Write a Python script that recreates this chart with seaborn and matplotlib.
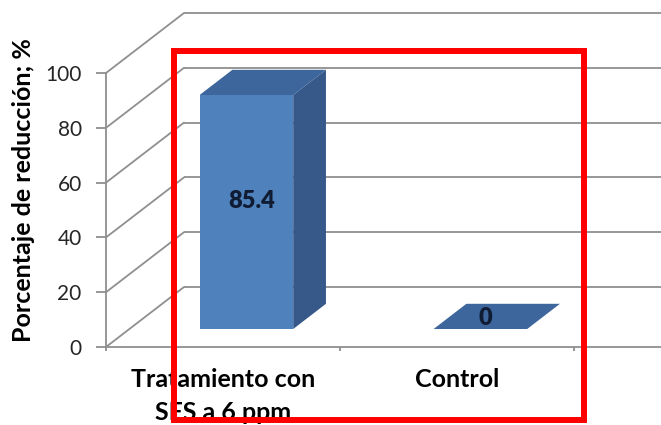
import matplotlib
matplotlib.use("Agg")
import matplotlib.pyplot as plt
import matplotlib.transforms as mtransforms
from matplotlib.lines import Line2D
from matplotlib.patches import Polygon, Rectangle
import pandas as pd
import seaborn as sns

# ---- data ----
categories = ["Tratamiento con\nSFS a 6 ppm", "Control"]
reduction = [85.4, 0.0]
value_labels = ["85.4", "0"]
y_ticks = [0, 20, 40, 60, 80, 100]
y_label = "Porcentaje de reducción; %"

# ---- style ----
FRONT = "#4F81BD"
TOP = "#3D679C"
SIDE = "#36598A"
GRID = "#8f8f8f"
TEXT = "#262626"
LABEL = "#0f1c33"

sns.set_style("white")
plt.rcParams["font.family"] = ["Lato", "DejaVu Sans"]

W, H, DPI = 661, 425, 100
fig = plt.figure(figsize=(W / DPI, H / DPI), dpi=DPI)

# front plane of the 3-D frame (pixels)
left_px, base_px, top_px, cat_px = 106, 347, 73, 234
ax = fig.add_axes([left_px / W, (H - base_px) / H,
                   (W - left_px) / W, (base_px - top_px) / H])

df = pd.DataFrame({"grupo": categories, "reduccion": reduction})
sns.barplot(data=df, x="grupo", y="reduccion", width=0.4, color=FRONT,
            saturation=1, errorbar=None, ax=ax, zorder=3, linewidth=0)

x_max = -0.5 + (W - left_px) / cat_px
ax.set_xlim(-0.5, x_max)
ax.set_ylim(0, 100)
ax.set_xlabel("")
ax.set_ylabel("")


def shifted(dx, dy):
    """Data transform moved by (dx, dy) pixels, i.e. pushed back in depth."""
    return ax.transData + mtransforms.ScaledTranslation(dx / DPI, dy / DPI, fig.dpi_scale_trans)


# depth of the whole box and position of the bars inside it
WALL = (78, 60)
bar_front = (0.30 * WALL[0], 0.30 * WALL[1])
bar_depth = (0.42 * WALL[0], 0.42 * WALL[1])

ident = mtransforms.IdentityTransform()
back = shifted(*WALL)

# back wall gridlines and left wall diagonals
for t in y_ticks:
    ax.plot([-0.5, x_max + 1], [t, t], transform=back, color=GRID, lw=1.3,
            clip_on=False, zorder=0, solid_capstyle="butt")
    px, py = ax.transData.transform((-0.5, t))
    ax.add_line(Line2D([px, px + WALL[0]], [py, py + WALL[1]], transform=ident,
                       color=GRID, lw=1.3, clip_on=False, zorder=0))

# 3-D bars: front face from seaborn, plus top and side faces
front_tr = shifted(*bar_front)
for patch in list(ax.patches):
    patch.set_transform(front_tr)
    patch.set_clip_on(False)
    x, w, h = patch.get_x(), patch.get_width(), patch.get_height()
    fx0, fy0 = front_tr.transform((x, 0))
    fx1, fy1 = front_tr.transform((x + w, h))
    dx, dy = bar_depth
    top = Polygon([(fx0, fy1), (fx1, fy1), (fx1 + dx, fy1 + dy), (fx0 + dx, fy1 + dy)],
                  closed=True, transform=ident, facecolor=TOP, edgecolor="none",
                  zorder=4, clip_on=False)
    ax.add_patch(top)
    if h > 0:
        side = Polygon([(fx1, fy0), (fx1, fy1), (fx1 + dx, fy1 + dy), (fx1 + dx, fy0 + dy)],
                       closed=True, transform=ident, facecolor=SIDE, edgecolor="none",
                       zorder=4, clip_on=False)
        ax.add_patch(side)

# value labels
label_tr = shifted(bar_front[0] + 5, bar_front[1] + 11)
for i, (v, lbl) in enumerate(zip(reduction, value_labels)):
    ax.text(i, v / 2, lbl, transform=label_tr, ha="center", va="center",
            fontsize=17, fontweight="heavy", color=LABEL, zorder=6)

# axes
for s in ("top", "right"):
    ax.spines[s].set_visible(False)
for s in ("left", "bottom"):
    ax.spines[s].set_color(GRID)
    ax.spines[s].set_linewidth(1.3)
    ax.spines[s].set_zorder(1)

ax.set_yticks(y_ticks)
ax.set_yticklabels([str(t) for t in y_ticks])
ax.tick_params(axis="y", length=7.5, width=1.3, color=GRID, pad=10,
               labelsize=15, labelcolor=TEXT, left=True)

ax.set_xticks(range(len(categories)))
ax.set_xticklabels(categories, fontweight="bold", linespacing=1.55)
ax.set_xticks([-0.5, 0.5, 1.5], minor=True)
ax.tick_params(axis="x", which="major", length=0, pad=15, labelsize=18, labelcolor="black")
ax.tick_params(axis="x", which="minor", length=3, width=1.3, color=GRID, bottom=True)

ax.set_ylabel(y_label, fontsize=18, fontweight="bold", color="black", va="center")
ax.yaxis.set_label_coords((23 - left_px) / (W - left_px), (base_px - 190) / (base_px - top_px))

ax.patch.set_alpha(0)

# red highlight frame
frame = Rectangle((174 / W, (H - 420) / H), (584 - 174) / W, (420 - 50.5) / H,
                  transform=fig.transFigure, fill=False, edgecolor="#ff0000",
                  linewidth=4.3, zorder=10)
fig.add_artist(frame)

fig.savefig("out.png", dpi=DPI)
